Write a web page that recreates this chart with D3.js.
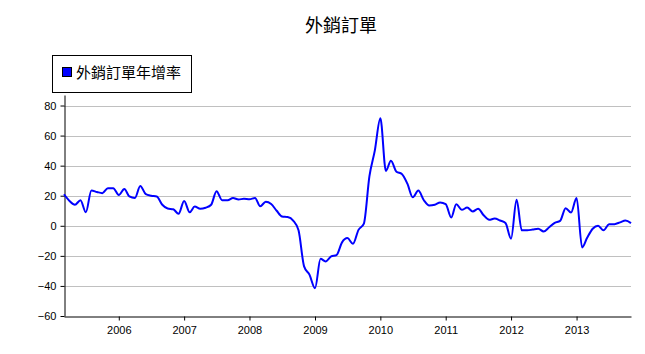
<!DOCTYPE html>
<meta charset="utf-8">
<style>
  body { margin: 0; background: #fff; }
  svg { display: block; }
</style>
<svg width="645" height="354"></svg>
<script src="https://d3js.org/d3.v7.min.js"></script>
<script>

// monthly series, first point = March 2005
const startMonth = "2005-03"
const growth = [
  21, 16.5, 14, 17, 9, 23.5, 22.5, 21.7, 25, 25,            // 2005 Mar-Dec
  20.5, 24.5, 19.5, 18.5, 26.5, 21, 20, 19.5, 14, 11.5, 11, 8, // 2006
  16.5, 9, 12.8, 11.3, 12, 14, 23, 17, 17, 18.5, 17.5, 18,     // 2007
  17.7, 18.5, 13, 16, 14.5, 10, 6.2, 5.8, 3.5, -3, -27, -32.5, // 2008
  -41.5, -22, -23.7, -20.4, -19.5, -11, -8.2, -12, -2.7, 1.5, 33, 50, // 2009
  71.5, 36.5, 43.3, 36, 34.5, 28, 19, 23.4, 17, 13.5, 14, 15.5,       // 2010
  14.4, 5.5, 14.4, 10.6, 12.1, 9.5, 11.3, 7, 4, 4.8, 3.5, 1.8,        // 2011
  -8.6, 17.3, -3, -3, -2.5, -2, -3.8, -1, 2, 3.3, 11.7, 8.8,          // 2012
  18.5, -14.4, -8, -2, 0, -3, 1, 1.1, 2.3, 3.5, 1.8                   // 2013 Jan-Nov
]
const yTicks = [-60, -40, -20, 0, 20, 40, 60, 80]
const yearTicks = [2006, 2007, 2008, 2009, 2010, 2011, 2012, 2013]
const title = "外銷訂單"
const seriesName = "外銷訂單年增率"

const parse = d3.timeParse("%Y-%m")
const t0 = parse(startMonth)
const data = growth.map((v, i) => ({ date: d3.timeMonth.offset(t0, i), value: v }))

const svg = d3.select("svg")
const plotLeft = 64, plotRight = 631, plotTop = 95, plotBottom = 316

const x = d3.scaleTime()
    .domain(d3.extent(data, d => d.date))
    .range([plotLeft, plotRight])
const y = d3.scaleLinear()
    .domain([-60, 87])
    .range([plotBottom, plotTop])

// grid
svg.append("g")
  .selectAll("line")
  .data(yTicks.filter(d => d > -60))
  .join("line")
    .attr("x1", plotLeft).attr("x2", plotRight)
    .attr("y1", d => Math.round(y(d)) + 0.5)
    .attr("y2", d => Math.round(y(d)) + 0.5)
    .attr("stroke", "#c0c0c0")

// y axis
const yAxis = svg.append("g")
    .attr("transform", `translate(${plotLeft + 0.5},0)`)
    .call(d3.axisLeft(y).tickValues(yTicks).tickSize(4).tickPadding(4).tickSizeOuter(0))
yAxis.select(".domain").attr("stroke", "#000")
yAxis.selectAll("text")
    .attr("font-family", "Arial, 'Liberation Sans', sans-serif")
    .attr("font-size", 11)
    .attr("fill", "#000")

// x axis
const xAxis = svg.append("g")
    .attr("transform", `translate(0,${plotBottom + 0.5})`)
    .call(d3.axisBottom(x)
      .tickValues(yearTicks.map(yr => new Date(yr, 0, 1)))
      .tickFormat(d3.timeFormat("%Y"))
      .tickSize(4).tickPadding(6).tickSizeOuter(0))
xAxis.select(".domain").attr("stroke", "#000")
xAxis.selectAll("text")
    .attr("font-family", "Arial, 'Liberation Sans', sans-serif")
    .attr("font-size", 11)
    .attr("fill", "#000")

// line
const line = d3.line()
    .x(d => x(d.date))
    .y(d => y(d.value))
    .curve(d3.curveMonotoneX)

svg.append("path")
    .datum(data)
    .attr("fill", "none")
    .attr("stroke", "#0000ff")
    .attr("stroke-width", 2)
    .attr("stroke-linejoin", "round")
    .attr("d", line)

// title
svg.append("text")
    .attr("x", 341)
    .attr("y", 32)
    .attr("text-anchor", "middle")
    .attr("font-family", "'Noto Sans CJK TC', sans-serif")
    .attr("font-size", 18)
    .attr("fill", "#000")
    .text(title)

// legend
const legend = svg.append("g")
legend.append("rect")
    .attr("x", 52.5).attr("y", 55.5)
    .attr("width", 139).attr("height", 37)
    .attr("fill", "#fff")
    .attr("stroke", "#000")
legend.append("rect")
    .attr("x", 62.5).attr("y", 67.5)
    .attr("width", 9).attr("height", 9)
    .attr("fill", "#0000ff")
    .attr("stroke", "#000")
legend.append("text")
    .attr("x", 76)
    .attr("y", 78)
    .attr("font-family", "'Noto Sans CJK TC', sans-serif")
    .attr("font-size", 15)
    .attr("fill", "#000")
    .text(seriesName)

</script>
